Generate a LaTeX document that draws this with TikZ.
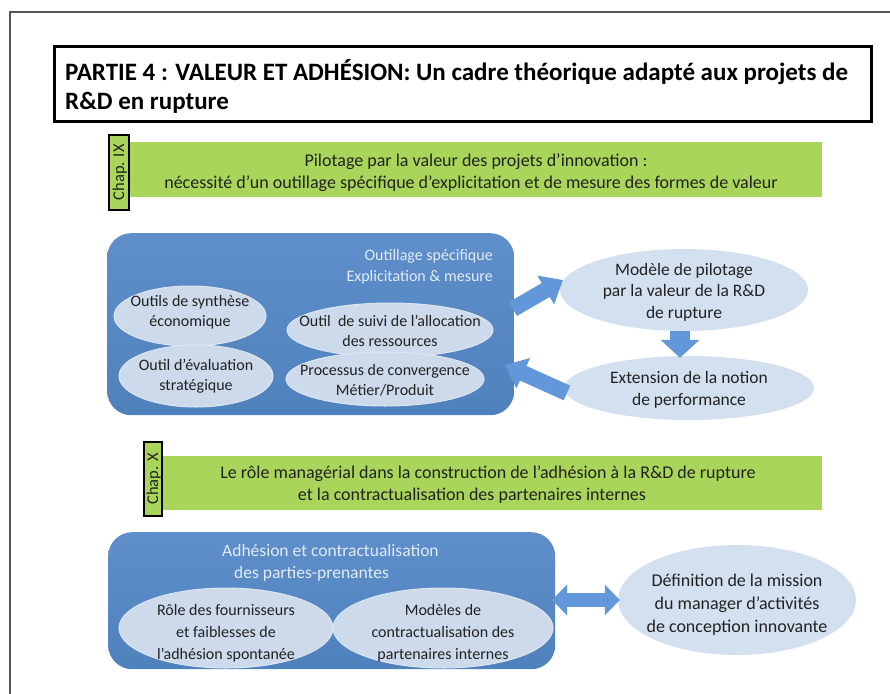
\documentclass[tikz,border=0pt]{standalone}
\usepackage{fontspec}
\setmainfont{Carlito}
\usetikzlibrary{shapes.geometric,arrows.meta}
\definecolor{boxblue}{HTML}{4F81BD}
\definecolor{boxblueT}{HTML}{5E8FCB}
\definecolor{ellblue}{HTML}{CCDAEC}
\definecolor{ellline}{HTML}{DCE6F2}
\definecolor{rellblue}{HTML}{D3E0F0}
\definecolor{barGreen}{HTML}{A9D55A}
\definecolor{arrowblue}{HTML}{6298DA}
\definecolor{titlewhite}{HTML}{E2EBF6}
\definecolor{txt}{HTML}{222222}
\definecolor{frame}{HTML}{555555}
\begin{document}
\begin{tikzpicture}[x=1pt,y=-1pt,
  ell/.style={ellipse, fill=ellblue, draw=ellline, line width=1pt, inner sep=0pt},
  rell/.style={ellipse, fill=rellblue, inner sep=0pt},
  elltext/.style={inner sep=0pt, align=center, text=txt, font=\fontsize{16}{20}\selectfont},
  elltextb/.style={elltext, font=\fontsize{16}{22}\selectfont},
  relltext/.style={inner sep=0pt, align=center, text=txt, font=\fontsize{17.5}{21.5}\selectfont},
  bluebox/.style={rounded corners=24pt, top color=boxblueT, bottom color=boxblue, draw=none},
  greenbar/.style={fill=barGreen, draw=none},
  chaptab/.style={fill=barGreen, draw=black, line width=1.5pt},
  tabtext/.style={rotate=90, text=txt, font=\fontsize{16.5}{18}\selectfont, inner sep=0pt},
  bartext/.style={text=txt, font=\fontsize{18}{22}\selectfont, inner sep=0pt},
  boxtitle/.style={text=titlewhite, font=\fontsize{16}{20}\selectfont, inner sep=0pt},
  blockarrow/.style={draw=arrowblue, line cap=butt}
]
\useasboundingbox (0,0) rectangle (890,693);
\clip (0,0) rectangle (890,693);
\fill[white] (0,0) rectangle (890,693);
% outer frame
\draw[frame, line width=2pt] (10,12) rectangle (900,710);
% title
\node[draw=black, line width=3pt, minimum width=817pt, minimum height=75pt, anchor=north west, inner sep=0pt] (titlebox) at (53,45) {};
\node[anchor=base west, inner sep=0pt, font=\bfseries\fontsize{25}{30}\selectfont] (title1) at (65,80) {PARTIE 4 : VALEUR ET ADHÉSION: Un cadre théorique adapté aux projets de};
\node[anchor=base west, inner sep=0pt, font=\bfseries\fontsize{25}{30}\selectfont] (title2) at (65,109) {R\&D en rupture};
% chapter IX
\node[greenbar, minimum width=692pt, minimum height=55pt, anchor=north west, inner sep=0pt] (bar1) at (130,142) {};
\node[chaptab, minimum width=20pt, minimum height=75pt, anchor=north west, inner sep=0pt] (tab1) at (108,134) {};
\node[tabtext] (tab1t) at ([xshift=1pt]tab1.center) {Chap. IX};
\node[bartext] (bar1a) at (476,162) {Pilotage par la valeur des projets d’innovation :};
\node[bartext] (bar1b) at (471,184) {nécessité d’un outillage spécifique d’explicitation et de mesure des formes de valeur};
% box 1
\node[bluebox, minimum width=407pt, minimum height=182pt, anchor=north west, inner sep=0pt] (box1) at (107,233) {};
\node[boxtitle, anchor=base east] (box1a) at (493,260) {Outillage spécifique};
\node[boxtitle, anchor=base east] (box1b) at (493,281) {Explicitation \& mesure};
\node[ell, minimum width=152pt, minimum height=60pt] (e1) at (190,316) {};
\node[elltext] (e1t) at (190,312) {Outils de synthèse\\économique};
\node[ell, minimum width=154pt, minimum height=62pt] (e2) at (196,376) {};
\node[elltext] (e2t) at (196,376) {Outil d’évaluation\\stratégique};
\node[ell, minimum width=206pt, minimum height=54pt] (e3) at (390,330) {};
\node[elltext] (e3t) at (390,331) {Outil\ \ de suivi de l’allocation\\des ressources};
\node[ell, minimum width=198pt, minimum height=54pt] (e4) at (385,379) {};
\node[elltext] (e4t) at (385,380) {Processus de convergence\\Métier/Produit};
% right ellipses
\node[rell, minimum width=248pt, minimum height=82pt] (model) at (684,290) {};
\node[relltext] (modelt) at (684,292) {Modèle de pilotage\\par la valeur de la R\&D\\de rupture};
\node[rell, minimum width=250pt, minimum height=64pt] (ext) at (689,388) {};
\node[relltext] (extt) at (689,390) {Extension de la notion\\de performance};
% arrows
\coordinate (a1s) at (513,309);
\coordinate (a1e) at (563,280);
\draw[blockarrow, line width=16pt, -{Triangle[length=20pt,width=32pt]}] (a1s) -- (a1e);
\draw[blockarrow, line width=20pt, -{Triangle[length=18pt,width=38pt]}] ([xshift=-4pt]model.south) -- ([xshift=-4pt,yshift=-2pt]model.south |- ext.north);
\coordinate (a3s) at (567,393);
\coordinate (a3e) at (505,365);
\draw[blockarrow, line width=16pt, -{Triangle[length=20pt,width=32pt]}] (a3s) -- (a3e);
% chapter X
\node[greenbar, minimum width=662pt, minimum height=54pt, anchor=north west, inner sep=0pt] (bar2) at (160,456) {};
\node[chaptab, minimum width=18pt, minimum height=74pt, anchor=north west, inner sep=0pt] (tab2) at (143,441) {};
\node[tabtext] (tab2t) at ([xshift=1pt]tab2.center) {Chap. X};
\node[bartext] (bar2a) at (488,474) {Le rôle managérial dans la construction de l’adhésion à la R\&D de rupture};
\node[bartext] (bar2b) at (472,496) {et la contractualisation des partenaires internes};
% box 2
\node[bluebox, minimum width=447pt, minimum height=137pt, anchor=north west, inner sep=0pt] (box2) at (108,532) {};
\node[boxtitle, font=\fontsize{17.5}{21}\selectfont, anchor=base west] (box2a) at (222,556) {Adhésion et contractualisation};
\node[boxtitle, font=\fontsize{17.5}{21}\selectfont, anchor=base west] (box2b) at (234,578) {des parties-prenantes};
\node[ell, minimum width=214pt, minimum height=80pt] (r1) at (226,628) {};
\node[elltextb] (r1t) at (226,633) {Rôle des fournisseurs\\et faiblesses de\\l’adhésion spontanée};
\node[ell, minimum width=220pt, minimum height=80pt] (r2) at (443,628) {};
\node[elltextb] (r2t) at (443,633) {Modèles de\\contractualisation des\\partenaires internes};
\node[rell, minimum width=238pt, minimum height=110pt] (def) at (737,600) {};
\node[relltext, font=\fontsize{18}{23}\selectfont] (deft) at (737,605) {Définition de la mission\\du manager d’activités\\de conception innovante};
\coordinate (a4s) at (552,600);
\draw[blockarrow, line width=14pt, {Triangle[length=15pt,width=30pt]}-{Triangle[length=15pt,width=30pt]}] (a4s) -- ([xshift=2pt]def.west);
\end{tikzpicture}
\end{document}
